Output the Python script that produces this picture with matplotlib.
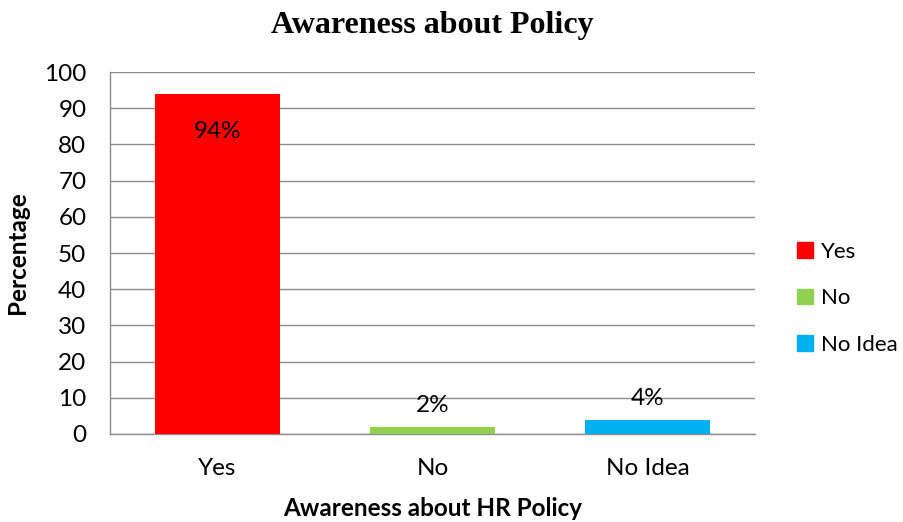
import matplotlib.pyplot as plt
from matplotlib.patches import Patch

categories = ["Yes", "No", "No Idea"]
values = [94, 2, 4]
labels = ["94%", "2%", "4%"]
colors = ["#FF0000", "#92D050", "#00B0F0"]

plt.rcParams['font.family'] = ['Lato', 'DejaVu Sans']

fig = plt.figure(figsize=(9.04, 5.22), dpi=100)
ax = fig.add_axes([0.1217, 0.1686, 0.7135, 0.6934])

x = range(len(categories))
ax.bar(x, values, width=0.58, color=colors, zorder=3)

# data labels: first one inside the bar, the rest above
for i, v in enumerate(values):
  if v > 50:
    ax.annotate(labels[i], (i, v), xytext=(0, -27), textcoords='offset points',
                ha='center', va='center', fontsize=17.5)
  else:
    ax.annotate(labels[i], (i, v), xytext=(0, 15), textcoords='offset points',
                ha='center', va='center', fontsize=17.5)

ax.set_xlim(-0.5, 2.5)
ax.set_ylim(0, 100)
ax.set_yticks(range(0, 101, 10))
ax.set_xticks(list(x))
ax.set_xticklabels(categories)
ax.tick_params(axis='both', length=0, labelsize=17.5)
ax.tick_params(axis='y', pad=17)
ax.tick_params(axis='x', pad=17)

ax.grid(axis='y', color='#8C8C8C', linewidth=1, zorder=0)
for s in ['top', 'right']:
  ax.spines[s].set_visible(False)
for s in ['left', 'bottom']:
  ax.spines[s].set_color('#8C8C8C')
  ax.spines[s].set_linewidth(1)

ax.set_title("Awareness about Policy", fontsize=23, fontweight='bold',
             family='Liberation Serif', pad=28)
ax.set_ylabel("Percentage", fontsize=17.5, fontweight='bold', labelpad=11)
ax.set_xlabel("Awareness about HR Policy", fontsize=17.5, fontweight='bold', labelpad=13)

handles = [Patch(color=c) for c in colors]
ax.legend(handles, categories, loc='center left', bbox_to_anchor=(1.0, 0.375),
          frameon=False, fontsize=16, handlelength=0.7, handleheight=0.7,
          labelspacing=1.2, handletextpad=0.35, borderpad=0, borderaxespad=1.9)

fig.savefig("out.png", dpi=100)
